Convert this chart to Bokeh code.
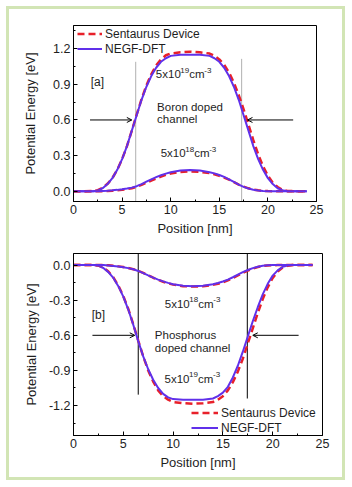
from bokeh.plotting import figure
from bokeh.layouts import column
from bokeh.models import (Range1d, FixedTicker, PrintfTickFormatter, Legend, LegendItem,
                          Arrow, OpenHead, Label)
from bokeh.embed import file_html
from bokeh.resources import INLINE

# ---------------- data ----------------
positions = [0, 1, 2, 2.5, 3, 3.5, 4, 4.5, 5, 5.5, 6, 6.5, 7, 7.5, 8, 8.5, 9, 9.5, 10, 11, 12,
             13, 14, 14.5, 15, 15.5, 16, 16.5, 17, 17.5, 18, 18.5, 19, 19.5, 20, 20.5, 21, 21.5,
             22, 23, 24]

# panel [a] boron doped
a_negf_5e19 = [0, 0, 0, 0.005, 0.025, 0.06, 0.11, 0.18, 0.27, 0.38, 0.51, 0.64, 0.77, 0.88, 0.97,
               1.04, 1.09, 1.12, 1.14, 1.15, 1.15, 1.15, 1.14, 1.12, 1.09, 1.04, 0.97, 0.88, 0.77,
               0.64, 0.51, 0.38, 0.27, 0.18, 0.11, 0.06, 0.025, 0.008, 0, 0, 0]
a_sent_5e19 = [0, 0, 0.002, 0.008, 0.028, 0.062, 0.11, 0.18, 0.27, 0.38, 0.51, 0.645, 0.775, 0.89,
               0.985, 1.06, 1.11, 1.145, 1.16, 1.17, 1.175, 1.17, 1.16, 1.14, 1.11, 1.065, 1.0,
               0.915, 0.81, 0.69, 0.56, 0.43, 0.31, 0.21, 0.13, 0.07, 0.035, 0.012, 0.002, 0, 0]
a_negf_5e18 = [0, 0, 0, 0, 0.002, 0.004, 0.007, 0.011, 0.016, 0.022, 0.03, 0.042, 0.06, 0.08, 0.1,
               0.118, 0.134, 0.148, 0.16, 0.174, 0.178, 0.174, 0.16, 0.15, 0.136, 0.12, 0.1, 0.078,
               0.055, 0.036, 0.022, 0.012, 0.006, 0.002, 0, 0, 0, 0, 0, 0, 0]
a_sent_5e18 = [0, 0, 0, 0, 0, 0.002, 0.004, 0.007, 0.011, 0.017, 0.025, 0.037, 0.053, 0.071, 0.09,
               0.107, 0.122, 0.137, 0.148, 0.162, 0.166, 0.163, 0.152, 0.143, 0.13, 0.115, 0.097,
               0.077, 0.056, 0.038, 0.024, 0.014, 0.007, 0.003, 0.001, 0, 0, 0, 0, 0, 0]

# panel [b] phosphorus doped
b_negf_5e19 = [0, 0, 0, -0.005, -0.025, -0.06, -0.11, -0.18, -0.27, -0.38, -0.51, -0.65, -0.78,
               -0.89, -0.98, -1.05, -1.1, -1.13, -1.145, -1.15, -1.15, -1.15, -1.14, -1.12, -1.09,
               -1.04, -0.96, -0.86, -0.74, -0.61, -0.48, -0.36, -0.25, -0.16, -0.09, -0.045,
               -0.015, -0.003, 0, 0, 0]
b_sent_5e19 = [0, 0, 0, -0.004, -0.02, -0.055, -0.105, -0.175, -0.265, -0.375, -0.505, -0.645,
               -0.78, -0.9, -0.995, -1.07, -1.12, -1.15, -1.17, -1.18, -1.185, -1.18, -1.17, -1.15,
               -1.12, -1.07, -1.0, -0.91, -0.8, -0.67, -0.54, -0.41, -0.29, -0.19, -0.11, -0.055,
               -0.02, -0.005, 0, 0, 0]
b_negf_5e18 = [0, 0, 0, 0, 0, -0.003, -0.007, -0.012, -0.018, -0.026, -0.036, -0.05, -0.068,
               -0.088, -0.107, -0.124, -0.139, -0.152, -0.163, -0.176, -0.18, -0.176, -0.163,
               -0.153, -0.14, -0.124, -0.104, -0.082, -0.06, -0.042, -0.026, -0.014, -0.006,
               -0.002, 0, 0, 0, 0, 0, 0, 0]
b_sent_5e18 = [0, 0, 0, 0, 0, -0.002, -0.006, -0.011, -0.017, -0.025, -0.035, -0.049, -0.067,
               -0.088, -0.108, -0.126, -0.142, -0.156, -0.167, -0.18, -0.184, -0.181, -0.169,
               -0.16, -0.147, -0.131, -0.111, -0.089, -0.066, -0.047, -0.03, -0.017, -0.008,
               -0.003, -0.001, 0, 0, 0, 0, 0, 0]

x_ticks = [0, 5, 10, 15, 20, 25]
x_minor = [2.5, 7.5, 12.5, 17.5, 22.5]
a_y_ticks = [0.0, 0.3, 0.6, 0.9, 1.2]
a_y_minor = [0.15, 0.45, 0.75, 1.05, 1.35]
b_y_ticks = [0.0, -0.3, -0.6, -0.9, -1.2]
b_y_minor = [-0.15, -0.45, -0.75, -1.05, -1.35]

a_channel_x = [6.4, 17.3]
a_channel_top = [1.09, 1.115]
b_channel_x = [6.5, 17.45]
b_channel_bot = [-1.107, -1.14]

RED = "#e8202a"
BLUE = "#6030ea"
FONT = "Liberation Sans"
TXT = "#1e1e1e"


def style(p, yt, ym):
    p.xgrid.visible = False
    p.ygrid.visible = False
    p.outline_line_color = "black"
    p.outline_line_width = 1
    p.background_fill_color = "white"
    p.border_fill_color = "white"
    for ax in (p.xaxis[0], p.yaxis[0]):
        ax.axis_line_color = "black"
        ax.major_tick_in = 4
        ax.major_tick_out = 0
        ax.minor_tick_in = 2
        ax.minor_tick_out = 0
        ax.major_label_text_font = FONT
        ax.major_label_text_font_size = "12.5px"
        ax.major_label_text_color = TXT
        ax.axis_label_text_font = FONT
        ax.axis_label_text_font_size = "13px"
        ax.axis_label_text_font_style = "normal"
        ax.axis_label_text_color = TXT
        ax.major_label_standoff = 3
    p.xaxis.ticker = FixedTicker(ticks=x_ticks, minor_ticks=x_minor)
    p.yaxis.ticker = FixedTicker(ticks=yt, minor_ticks=ym)
    p.yaxis.formatter = PrintfTickFormatter(format="%.1f")
    p.xaxis.axis_label = "Position [nm]"
    p.yaxis.axis_label = "Potential Energy [eV]"
    p.xaxis.axis_label_standoff = 4


def lab(p, x, y, text, align="center", size="11.5px", dx=0, dy=0):
    p.add_layout(Label(x=x, y=y, text=text, text_align=align, text_baseline="middle",
                       x_offset=dx, y_offset=dy,
                       text_font=FONT, text_font_size=size, text_color=TXT))


def conc(p, x, y, exponent):
    # "5x10^{exp}cm^{-3}" composed of normal and raised smaller pieces, centred at (x, y)
    start = -27
    lab(p, x, y, "5x10", align="left", dx=start)
    lab(p, x, y, exponent, align="left", size="8px", dx=start + 24.5, dy=4)
    lab(p, x, y, "cm", align="left", dx=start + 33.5)
    lab(p, x, y, "-3", align="left", size="8px", dx=start + 48.5, dy=4)


# ---------------- panel a ----------------
p1 = figure(frame_width=243, frame_height=176, x_range=Range1d(0, 25),
            y_range=Range1d(-0.087, 1.396), output_backend="svg", toolbar_location=None,
            min_border_left=64, min_border_right=26, min_border_top=16, min_border_bottom=39)
style(p1, a_y_ticks, a_y_minor)
p1.yaxis.axis_label_standoff = 12

p1.segment(x0=a_channel_x, y0=[-0.087, -0.087], x1=a_channel_x, y1=a_channel_top,
           line_color="#b0b0b0", line_width=1)
r_s1 = p1.line(positions, a_sent_5e19, line_color=RED, line_width=2.5, line_dash="7 4")
r_n1 = p1.line(positions, a_negf_5e19, line_color=BLUE, line_width=2)
p1.line(positions, a_sent_5e18, line_color=RED, line_width=2.5, line_dash="7 4")
p1.line(positions, a_negf_5e18, line_color=BLUE, line_width=2)

p1.add_layout(Arrow(end=OpenHead(size=5, line_width=1), x_start=1.7, y_start=0.6, x_end=6.0,
                    y_end=0.6, line_width=1))
p1.add_layout(Arrow(end=OpenHead(size=5, line_width=1), x_start=22.6, y_start=0.6, x_end=17.9,
                    y_end=0.6, line_width=1))
lab(p1, 2.45, 0.92, "[a]", size="12px")
conc(p1, 11.25, 0.985, "19")
lab(p1, 8.6, 0.71, "Boron doped", align="left")
lab(p1, 8.6, 0.61, "channel", align="left")
conc(p1, 11.75, 0.32, "18")

leg1 = Legend(items=[LegendItem(label="Sentaurus Device", renderers=[r_s1]),
                     LegendItem(label="NEGF-DFT", renderers=[r_n1])],
              location=(4, 145), orientation="vertical", padding=0, margin=0, spacing=0,
              glyph_width=25, glyph_height=15, label_height=15, label_standoff=3,
              label_text_font=FONT, label_text_font_size="12px", label_text_color=TXT,
              border_line_color=None, background_fill_alpha=0)
p1.add_layout(leg1)

# ---------------- panel b ----------------
p2 = figure(frame_width=249, frame_height=182, x_range=Range1d(0, 25),
            y_range=Range1d(-1.456, 0.099), output_backend="svg", toolbar_location=None,
            min_border_left=58, min_border_right=26, min_border_top=13, min_border_bottom=42)
style(p2, b_y_ticks, b_y_minor)
p2.yaxis.axis_label_standoff = 7

p2.segment(x0=b_channel_x, y0=[0.099, 0.099], x1=b_channel_x, y1=b_channel_bot,
           line_color="black", line_width=1)
r_s2 = p2.line(positions, b_sent_5e19, line_color=RED, line_width=2.5, line_dash="7 4")
r_n2 = p2.line(positions, b_negf_5e19, line_color=BLUE, line_width=2)
p2.line(positions, b_sent_5e18, line_color=RED, line_width=2.5, line_dash="7 4")
p2.line(positions, b_negf_5e18, line_color=BLUE, line_width=2)

p2.add_layout(Arrow(end=OpenHead(size=5, line_width=1), x_start=1.9, y_start=-0.6, x_end=6.15,
                    y_end=-0.6, line_width=1))
p2.add_layout(Arrow(end=OpenHead(size=5, line_width=1), x_start=22.6, y_start=-0.6, x_end=18.0,
                    y_end=-0.6, line_width=1))
lab(p2, 2.5, -0.424, "[b]", size="12px")
conc(p2, 11.88, -0.33, "18")
lab(p2, 8.17, -0.597, "Phosphorus", align="left")
lab(p2, 8.17, -0.708, "doped channel", align="left")
conc(p2, 11.85, -0.97, "19")

leg2 = Legend(items=[LegendItem(label="Sentaurus Device", renderers=[r_s2]),
                     LegendItem(label="NEGF-DFT", renderers=[r_n2])],
              location=(118, 0), orientation="vertical", padding=0, margin=0, spacing=0,
              glyph_width=27, glyph_height=15, label_height=15, label_standoff=3,
              label_text_font=FONT, label_text_font_size="12px", label_text_color=TXT,
              border_line_color=None, background_fill_alpha=0)
p2.add_layout(leg2)

layout = column(p1, p2, spacing=0, margin=(6, 0, 0, 6),
                styles={"border": "3px solid #d2e5b5", "background-color": "white"})

open("out.html", "w").write(file_html(layout, INLINE))
